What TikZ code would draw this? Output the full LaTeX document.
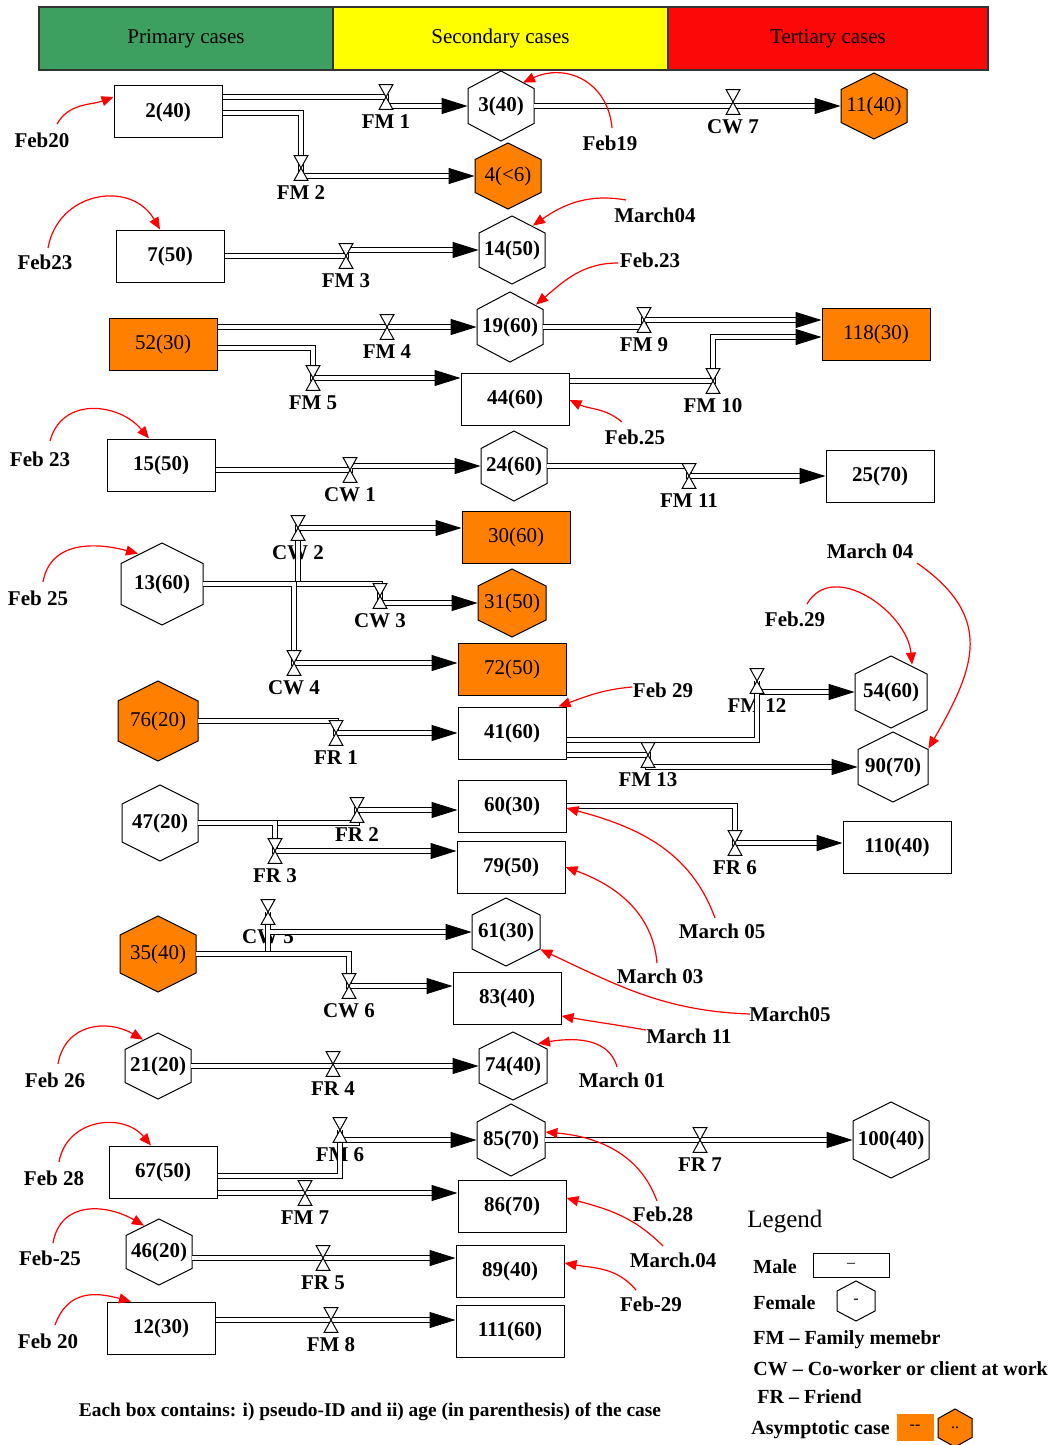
\documentclass[tikz,border=0pt]{standalone}
\usepackage{fontspec}
\setmainfont{Liberation Serif}
\usetikzlibrary{arrows.meta,calc}
\definecolor{hgreen}{RGB}{62,160,96}
\definecolor{hyellow}{RGB}{255,255,0}
\definecolor{hred}{RGB}{252,8,8}
\definecolor{asym}{RGB}{255,128,0}
\newcommand\dgfont{\fontsize{10.5}{12}\selectfont}
\newcommand\hexshape[5]{%
  \draw[line width=0.5pt, fill=#5] ({#1},{#2-#4/2}) -- ({#1+#3/2},{#2-#4/4}) -- ({#1+#3/2},{#2+#4/4}) -- ({#1},{#2+#4/2}) -- ({#1-#3/2},{#2+#4/4}) -- ({#1-#3/2},{#2-#4/4}) -- cycle;}
\newcommand\hexw[6]{%
  \hexshape{#2}{#3}{#4}{#5}{white}
  \node[hexn, font=\dgfont\bfseries, minimum width=#4*0.5pt, minimum height=#5*0.5pt] (#1) at (#2,#3) {#6};}
\newcommand\hexo[6]{%
  \hexshape{#2}{#3}{#4}{#5}{asym}
  \node[hexn, font=\dgfont, minimum width=#4*0.5pt, minimum height=#5*0.5pt] (#1) at (#2,#3) {#6};}
\begin{document}
\begin{tikzpicture}[x=0.5pt,y=-0.5pt,
  hexn/.style={inner sep=0pt},
  box/.style={draw, line width=0.5pt, fill=white, minimum width=54pt, minimum height=26pt, inner sep=0pt, font=\dgfont\bfseries},
  abox/.style={box, fill=asym, font=\dgfont},
  hdr/.style={draw=black!80, line width=0.6pt, inner sep=0pt, minimum height=31.5pt, font=\dgfont},
  vlab/.style={font=\dgfont\bfseries, inner sep=2.5pt},
  valve/.style={inner sep=0pt, minimum width=6.5pt, minimum height=12pt, label={[vlab]below:#1}},
  date/.style={font=\dgfont\bfseries, inner sep=1pt},
  conn/.style={draw, line width=0.5pt, double, double distance=2pt, -{Triangle[length=13pt,width=8pt]}},
  redarr/.style={draw=red, line width=0.6pt, -{Triangle[length=6pt,width=5pt]}},
  leg/.style={font=\fontsize{10}{12}\selectfont\bfseries, inner sep=0pt},
  small/.style={font=\fontsize{8}{9}\selectfont, inner sep=0pt}]
\path[use as bounding box] (0,0) rectangle (1049,1445);

% header
\node[hdr, fill=hgreen, minimum width=147pt] (hp) at (186,38.5) {Primary cases};
\node[hdr, fill=hyellow, minimum width=167.5pt] (hs) at (500.5,38.5) {Secondary cases};
\node[hdr, fill=hred, minimum width=160pt] (ht) at (828,38.5) {Tertiary cases};

% boxes
\node[box] (n2) at (168,112) {2(40)};
\node[box] (n7) at (170,256) {7(50)};
\node[abox] (n52) at (163,344) {52(30)};
\node[box] (n44) at (515,399) {44(60)};
\node[abox] (n118) at (876,334) {118(30)};
\node[box] (n15) at (161,465) {15(50)};
\node[box] (n25) at (880,476) {25(70)};
\node[abox] (n30) at (516,537) {30(60)};
\node[abox] (n72) at (512,669) {72(50)};
\node[box] (n41) at (512,733) {41(60)};
\node[box] (n60) at (512,806) {60(30)};
\node[box] (n79) at (511,867) {79(50)};
\node[box] (n110) at (897,847) {110(40)};
\node[box] (n83) at (507,998) {83(40)};
\node[box] (n67) at (163,1172) {67(50)};
\node[box] (n86) at (512,1206) {86(70)};
\node[box] (n89) at (510,1271) {89(40)};
\node[box] (n12) at (161,1328) {12(30)};
\node[box] (n111) at (510,1331) {111(60)};

% hexagons
\hexw{n3}{501}{106}{66}{70}{3(40)}
\hexo{n4}{508}{176}{66}{66}{4(<6)}
\hexo{n11}{874}{106}{66}{66}{11(40)}
\hexw{n14}{512}{250}{66}{68}{14(50)}
\hexw{n19}{510}{327}{66}{70}{19(60)}
\hexw{n24}{514}{466}{66}{70}{24(60)}
\hexw{n13}{162}{584}{82}{82}{13(60)}
\hexo{n31}{512}{603}{68}{68}{31(50)}
\hexo{n76}{158}{721}{80}{80}{76(20)}
\hexw{n54}{891}{692}{72}{72}{54(60)}
\hexw{n90}{893}{767}{70}{70}{90(70)}
\hexw{n47}{160}{823}{76}{76}{47(20)}
\hexo{n35}{158}{954}{76}{76}{35(40)}
\hexw{n61}{506}{932}{68}{68}{61(30)}
\hexw{n21}{158}{1066}{66}{66}{21(20)}
\hexw{n74}{513}{1066}{68}{68}{74(40)}
\hexw{n85}{511}{1140}{68}{72}{85(70)}
\hexw{n100}{891}{1140}{76}{76}{100(40)}
\hexw{n46}{159}{1252}{66}{66}{46(20)}

% valves
\node[valve=FM 1] (v1) at (386,97) {};
\node[valve=FM 2] (v2) at (301,168) {};
\node[valve=CW 7] (v3) at (733,102) {};
\node[valve=FM 3] (v4) at (346,256) {};
\node[valve=FM 4] (v5) at (387,327) {};
\node[valve=FM 5] (v6) at (313,378) {};
\node[valve=FM 9] (v7) at (644,320) {};
\node[valve=FM 10] (v8) at (713,381) {};
\node[valve=CW 1] (v9) at (350,470) {};
\node[valve=FM 11] (v10) at (689,476) {};
\node[valve=CW 2] (v11) at (298,528) {};
\node[valve=CW 3] (v12) at (380,596) {};
\node[valve=CW 4] (v13) at (294,663) {};
\node[valve=FR 1] (v14) at (336,733) {};
\node[valve=FM 12] (v15) at (757,681) {};
\node[valve=FM 13] (v16) at (648,755) {};
\node[valve=FR 2] (v17) at (357,810) {};
\node[valve=FR 3] (v18) at (275,851) {};
\node[valve=FR 6] (v19) at (735,843) {};
\node[valve=CW 5] (v20) at (268,912) {};
\node[valve=CW 6] (v21) at (349,986) {};
\node[valve=FR 4] (v22) at (333,1064) {};
\node[valve=FM 6] (v23) at (340,1130) {};
\node[valve=FM 7] (v24) at (305,1193) {};
\node[valve=FR 7] (v25) at (700,1140) {};
\node[valve=FR 5] (v26) at (323,1258) {};
\node[valve=FM 8] (v27) at (331,1320) {};

% connectors
\draw[conn] ([yshift=7.5pt]n2.east) -- (v1.center) |- (n3.west);
\draw[conn] ([yshift=-0.5pt]n2.east) -| (v2.center) |- (n4.west);
\draw[conn] (n3.east) -- (n11.west);
\draw[conn] (n7.east) -- (v4.center) |- (n14.west);
\draw[conn] ([yshift=8.5pt]n52.east) -- (v5.center) -- (n19.west);
\draw[conn] ([yshift=-2pt]n52.east) -| (v6.center) -- ([yshift=10.5pt]n44.west);
\draw[conn] (n19.east) -| (v7.center) -- ([yshift=7pt]n118.west);
\draw[conn] ([yshift=9pt]n44.east) -- (v8.center) |- ([yshift=-1.5pt]n118.west);
\draw[conn] ([yshift=-2.5pt]n15.east) -- (v9.center) |- (n24.west);
\draw[conn] (n24.east) -| (v10.center) -- (n25.west);
\draw[conn] (n13.east) -| (v11.center) -- ([yshift=4.5pt]n30.west);
\draw[conn] (n13.east) -| (v12.center) |- (n31.west);
\draw[conn] (n13.east) -| (v13.center) -- ([yshift=3pt]n72.west);
\draw[conn] (n76.east) -| (v14.center) -- (n41.west);
\draw[conn] ([yshift=-3.5pt]n41.east) -| (v15.center) |- (n54.west);
\draw[conn] ([yshift=-11pt]n41.east) -- (v16.center) |- (n90.west);
\draw[conn] (n47.east) -| (v17.center) -- ([yshift=-2pt]n60.west);
\draw[conn] (n47.east) -| (v18.center) -- ([yshift=8pt]n79.west);
\draw[conn] (n60.east) -| (v19.center) -- ([yshift=2pt]n110.west);
\draw[conn] (n35.east) -| (v20.center) |- (n61.west);
\draw[conn] (n35.east) -| (v21.center) -- ([yshift=6pt]n83.west);
\draw[conn] (n21.east) -- (n74.west);
\draw[conn] ([yshift=-2pt]n67.east) -| (v23.center) |- (n85.west);
\draw[conn] ([yshift=-10.5pt]n67.east) -- (v24.center) -- ([yshift=6.5pt]n86.west);
\draw[conn] (n85.east) -- (v25.center) -- (n100.west);
\draw[conn] ([yshift=-3pt]n46.east) -- (v26.center) -- ([yshift=6.5pt]n89.west);
\draw[conn] ([yshift=4pt]n12.east) -- (v27.center) -- ([yshift=5.5pt]n111.west);

% valve symbols
\foreach \i in {1,...,27}
  \draw[line width=0.5pt, fill=white] (v\i.north west) -- (v\i.north east) -- (v\i.south west) -- (v\i.south east) -- cycle;

% dates
\node[date] (d1) at (42,140) {Feb20};
\node[date] (d2) at (45,262) {Feb23};
\node[date] (d3) at (610,143) {Feb19};
\node[date] (d4) at (655,215) {March04};
\node[date] (d5) at (650,260) {Feb.23};
\node[date] (d6) at (635,437) {Feb.25};
\node[date] (d7) at (40,459) {Feb 23};
\node[date] (d8) at (38,598) {Feb 25};
\node[date] (d9) at (663,690) {Feb 29};
\node[date] (d10) at (795,619) {Feb.29};
\node[date] (d11) at (870,551) {March 04};
\node[date] (d12) at (722,931) {March 05};
\node[date] (d13) at (660,976) {March 03};
\node[date] (d14) at (790,1014) {March05};
\node[date] (d15) at (689,1036) {March 11};
\node[date] (d16) at (55,1080) {Feb 26};
\node[date] (d17) at (622,1080) {March 01};
\node[date] (d18) at (54,1178) {Feb 28};
\node[date] (d19) at (663,1214) {Feb.28};
\node[date] (d20) at (673,1260) {March.04};
\node[date] (d21) at (50,1258) {Feb-25};
\node[date] (d22) at (651,1304) {Feb-29};
\node[date] (d23) at (48,1341) {Feb 20};

\draw[redarr] ([xshift=7.5pt,yshift=8pt]d1.center) to[out=60,in=200] ([yshift=7.5pt]n2.west);
\draw[redarr] ([xshift=1.5pt,yshift=7pt]d2.center) to[out=80,in=120,looseness=1.3] ([xshift=-4pt]n2.north |- n7.north);
\draw[redarr] ([xshift=1pt,yshift=7.5pt]d3.center) to[out=95,in=25,looseness=1.2] ([xshift=11pt,yshift=-6pt]n3.north);
\draw[redarr] ([xshift=-14.5pt,yshift=7.5pt]d4.center) to[out=170,in=35] ([xshift=10.5pt,yshift=-5pt]n14.north);
\draw[redarr] ([xshift=-16pt,yshift=-1.5pt]d5.center) to[out=180,in=40] ([xshift=13pt,yshift=-6.5pt]n19.north);
\draw[redarr] ([xshift=-6.5pt,yshift=7.5pt]d6.center) to[out=140,in=-25] ([yshift=-0.5pt]n44.east);
\draw[redarr] ([xshift=5pt,yshift=9pt]d7.center) to[out=75,in=130,looseness=1.2] ([xshift=-6pt]n15.north);
\draw[redarr] ([xshift=2.5pt,yshift=8pt]d8.center) to[out=80,in=165,looseness=1.1] ([xshift=-12pt,yshift=-5.5pt]n13.north);
\draw[redarr] ([xshift=-15.5pt,yshift=1.5pt]d9.center) to[out=185,in=20] ([xshift=-4pt]n41.north east);
\draw[redarr] ([xshift=6pt,yshift=7.5pt]d10.center) to[out=60,in=95,looseness=1.1] ([xshift=10.5pt,yshift=-4.5pt]n54.north);
\draw[redarr] ([xshift=23.5pt,yshift=-6pt]d11.center) to[out=-35,in=60,looseness=1.3] ([yshift=-8.5pt]n90.north east);
\draw[redarr] ([xshift=-3.5pt,yshift=6.5pt]d12.center) to[out=110,in=-15] ([yshift=-1pt]n60.east);
\draw[redarr] ([xshift=-1.5pt,yshift=6.5pt]d13.center) to[out=95,in=-20] (n79.east);
\draw[redarr] ([xshift=-20pt]d14.center) to[out=178,in=-25] ([yshift=8.5pt]n61.south east);
\draw[redarr] ([xshift=-21.5pt,yshift=3pt]d15.center) to[out=170,in=-10] ([yshift=-9pt]n83.east);
\draw[redarr] ([xshift=1.5pt,yshift=8pt]d16.center) to[out=80,in=150,looseness=1.2] ([xshift=-7.5pt,yshift=-3.5pt]n21.north);
\draw[redarr] ([xshift=-2.5pt,yshift=6.5pt]d17.center) to[out=105,in=10] ([xshift=12.5pt,yshift=-6pt]n74.north);
\draw[redarr] ([xshift=2.5pt,yshift=8pt]d18.center) to[out=80,in=130,looseness=1.2] ([xshift=-6pt]n67.north);
\draw[redarr] ([xshift=-3pt,yshift=6.5pt]d19.center) to[out=110,in=-5] ([yshift=4pt]n85.east);
\draw[redarr] ([xshift=-5pt,yshift=7pt]d20.center) to[out=135,in=-15] ([yshift=4pt]n86.east);
\draw[redarr] ([xshift=1.5pt,yshift=7.5pt]d21.center) to[out=80,in=150,looseness=1.2] ([xshift=-7.5pt,yshift=-3.5pt]n46.north);
\draw[redarr] ([xshift=-7.5pt,yshift=7pt]d22.center) to[out=130,in=-10] ([yshift=4pt]n89.east);
\draw[redarr] ([xshift=3.5pt,yshift=8pt]d23.center) to[out=70,in=165,looseness=1.2] ([xshift=-15pt]n12.north);

% caption
\node[font=\fontsize{9.7}{11}\selectfont\bfseries] (cap) at (370,1412) {Each box contains: i) pseudo-ID and ii) age (in parenthesis) of the case};

% legend
\node[font=\fontsize{12.5}{14}\selectfont, anchor=west, inner sep=0pt] (lg) at (747,1222) {Legend};
\node[leg, anchor=west] (lm) at (753,1267) {Male};
\node[draw, line width=0.5pt, minimum width=38pt, minimum height=12pt, small] (lmb) at (851,1265) {–};
\node[leg, anchor=west] (lf) at (753,1303) {Female};
\hexshape{856}{1301}{38}{40}{white}
\node[small, minimum width=19pt, minimum height=20pt] (lfh) at (856,1301) {-};
\node[leg, anchor=west] (l1) at (753,1340) {FM – Family memebr};
\node[leg, anchor=west] (l2) at (753,1369) {CW – Co-worker or client at work};
\node[leg, anchor=west] (l3) at (757,1397) {FR – Friend};
\node[leg, anchor=west] (l4) at (751,1430) {Asymptotic case};
\node[small, fill=asym, minimum width=18.5pt, minimum height=13.5pt] (lab) at (915,1427) {-{}-};
\hexshape{955}{1428}{34}{38}{asym}
\node[small, minimum width=17pt, minimum height=19pt] (lah) at (955,1428) {..};
\end{tikzpicture}
\end{document}
